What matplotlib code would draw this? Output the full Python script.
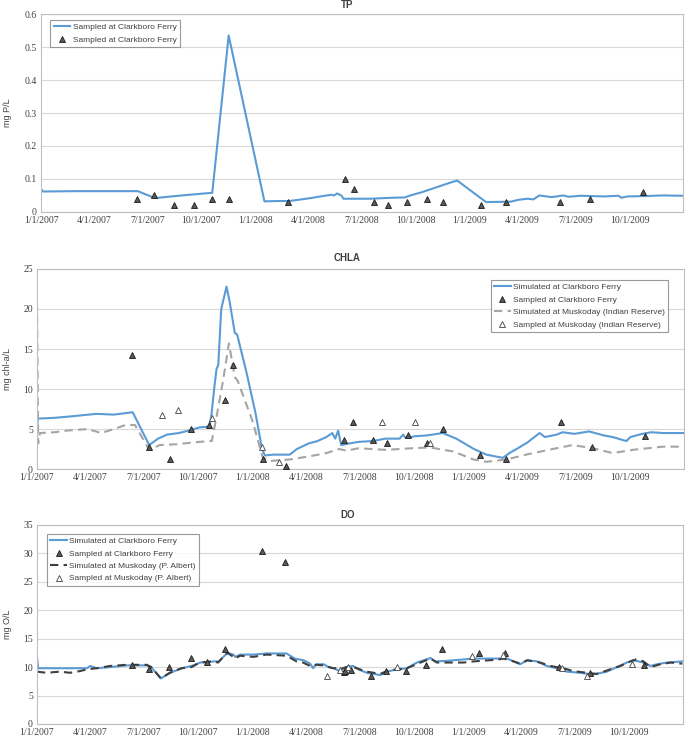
import numpy as np
import matplotlib
matplotlib.use("Agg")
import matplotlib.pyplot as plt
import matplotlib.dates as mdates

# x values are days since 1/1/2007
START = np.datetime64("2007-01-01")
END = np.datetime64("2009-12-31")

tick_labels = ["1/1/2007", "4/1/2007", "7/1/2007", "10/1/2007",
               "1/1/2008", "4/1/2008", "7/1/2008", "10/1/2008",
               "1/1/2009", "4/1/2009", "7/1/2009", "10/1/2009"]
tick_dates = ["2007-01-01", "2007-04-01", "2007-07-01", "2007-10-01",
              "2008-01-01", "2008-04-01", "2008-07-01", "2008-10-01",
              "2009-01-01", "2009-04-01", "2009-07-01", "2009-10-01"]

# ---- TP ----
tp_sim_day = [0, 3, 60, 120, 165, 194, 240, 292, 320, 381, 400, 423, 440, 460,
              480, 495, 500, 505, 512, 516, 560, 600, 621, 630, 650, 680, 700,
              710, 759, 801, 815, 830, 840, 850, 870, 880, 890, 900, 920, 940,
              960, 985, 990, 1000, 1030, 1060, 1095]
tp_sim = [0.070, 0.062, 0.063, 0.063, 0.063, 0.042, 0.050, 0.058, 0.535, 0.032,
          0.033, 0.033, 0.037, 0.042, 0.048, 0.052, 0.050, 0.056, 0.050, 0.040,
          0.040, 0.043, 0.044, 0.050, 0.060, 0.078, 0.090, 0.095, 0.030, 0.031,
          0.037, 0.040, 0.038, 0.050, 0.045, 0.047, 0.050, 0.046, 0.049, 0.048,
          0.047, 0.049, 0.043, 0.047, 0.048, 0.050, 0.049]
tp_obs_day = [163, 192, 226, 261, 291, 320, 422, 519, 533, 568, 591, 625, 659,
              686, 750, 793, 885, 937, 1027]
tp_obs = [0.04, 0.05, 0.02, 0.02, 0.04, 0.04, 0.03, 0.10, 0.07, 0.03, 0.02,
          0.03, 0.04, 0.03, 0.02, 0.03, 0.03, 0.04, 0.06]

# ---- CHLA ----
chla_cf_day = [0, 1, 30, 60, 101, 130, 162, 190, 205, 220, 240, 257, 275, 292,
               295, 300, 304, 307, 312, 321, 326, 335, 339, 355, 370, 381, 386,
               400, 428, 440, 460, 475, 490, 500, 505, 510, 515, 529, 545, 569,
               590, 614, 620, 624, 640, 660, 687, 710, 740, 761, 789, 800, 812,
               830, 851, 860, 880, 890, 910, 935, 960, 975, 998, 1005, 1025,
               1040, 1060, 1095]
chla_cf = [4.0, 6.3, 6.4, 6.6, 6.9, 6.8, 7.1, 3.0, 3.8, 4.3, 4.5, 4.8, 5.2, 5.3,
           6.5, 10.0, 12.5, 13.0, 20.0, 22.8, 21.0, 17.0, 16.8, 12.0, 7.0, 2.5,
           1.7, 1.8, 1.8, 2.5, 3.2, 3.5, 4.0, 4.5, 3.8, 4.8, 3.0, 3.2, 3.4, 3.5,
           3.8, 3.8, 4.3, 3.9, 4.1, 4.2, 4.5, 3.8, 2.5, 1.8, 1.4, 2.0, 2.5, 3.3,
           4.5, 4.0, 4.3, 4.6, 4.4, 4.7, 4.2, 4.0, 3.5, 4.0, 4.4, 4.6, 4.5, 4.5]
chla_mk_day = [0, 2, 5, 30, 50, 86, 109, 130, 150, 166, 190, 208, 236, 275, 296,
               304, 315, 325, 335, 340, 365, 382, 393, 428, 462, 490, 512, 524,
               545, 590, 635, 665, 705, 739, 761, 795, 828, 873, 907, 941, 975,
               1009, 1060, 1095]
chla_mk = [20.8, 3.2, 4.5, 4.6, 4.8, 5.0, 4.5, 5.0, 5.5, 5.5, 2.4, 3.0, 3.1, 3.4,
           3.5, 6.5, 11.0, 15.7, 11.5, 11.0, 6.0, 1.5, 1.0, 1.2, 1.6, 2.0, 2.5,
           2.3, 2.6, 2.4, 2.6, 2.7, 2.2, 1.2, 0.9, 1.2, 1.8, 2.5, 3.0, 2.6, 2.0,
           2.4, 2.8, 2.8]
chla_cf_obs_day = [161, 190, 225, 260, 291, 319, 332, 382, 421, 520, 535, 569,
                   592, 628, 660, 687, 751, 795, 887, 940, 1030]
chla_cf_obs = [14.2, 2.8, 1.3, 5.0, 5.5, 8.6, 13.0, 1.3, 0.4, 3.6, 5.9, 3.6,
               3.2, 4.2, 3.2, 5.0, 1.8, 1.3, 5.9, 2.8, 4.1]
chla_mk_obs_day = [211, 238, 297, 381, 409, 584, 640, 665]
chla_mk_obs = [6.7, 7.4, 6.4, 2.7, 0.9, 5.9, 5.9, 3.3]

# ---- DO ----
do_cf_day = [0, 2, 40, 85, 90, 101, 124, 152, 186, 195, 210, 226, 246, 262, 277,
             300, 308, 316, 323, 333, 336, 345, 367, 389, 423, 437, 452, 463,
             468, 473, 486, 494, 503, 513, 523, 536, 547, 559, 582, 593, 610,
             627, 644, 667, 675, 695, 718, 740, 786, 797, 808, 819, 831, 848,
             864, 881, 898, 921, 943, 966, 983, 1000, 1011, 1028, 1040, 1051,
             1068, 1094]
do_cf = [11.8, 9.8, 9.8, 9.8, 10.2, 9.8, 10.0, 10.3, 10.3, 9.8, 8.0, 9.0, 9.8,
         10.2, 10.8, 11.0, 11.0, 11.8, 12.5, 12.2, 11.8, 12.2, 12.2, 12.4, 12.4,
         11.5, 11.2, 10.6, 9.8, 10.5, 10.5, 10.0, 9.8, 9.3, 10.0, 10.2, 9.5,
         9.0, 8.6, 9.2, 9.6, 9.8, 10.8, 11.6, 11.0, 11.1, 11.3, 11.5, 11.5,
         11.5, 11.0, 10.5, 11.2, 11.0, 10.2, 9.8, 9.2, 9.0, 8.7, 9.2, 10.0,
         10.8, 11.2, 10.8, 10.2, 10.5, 10.8, 11.0]
do_mk_day = [0, 16, 39, 56, 73, 84, 101, 124, 152, 186, 194, 210, 225, 245, 262,
             276, 299, 307, 316, 323, 330, 336, 344, 367, 389, 423, 440, 451,
             463, 474, 485, 502, 519, 531, 536, 559, 582, 593, 610, 627, 650,
             667, 678, 695, 723, 740, 780, 791, 808, 819, 831, 853, 870, 892,
             909, 932, 949, 966, 989, 1006, 1017, 1028, 1040, 1057, 1074, 1094]
do_mk = [9.2, 9.0, 9.2, 9.0, 9.3, 9.6, 9.8, 10.2, 10.4, 10.4, 10.0, 8.0, 9.0,
         9.8, 10.0, 10.8, 11.0, 10.8, 11.8, 12.5, 12.0, 11.5, 12.0, 11.8, 12.2,
         12.0, 11.0, 10.8, 10.2, 10.4, 10.3, 9.8, 9.8, 10.2, 10.0, 9.2, 8.8,
         9.3, 9.6, 9.8, 10.8, 11.5, 10.8, 10.8, 10.8, 11.0, 11.3, 11.5, 11.0,
         10.6, 11.2, 10.8, 10.2, 9.8, 9.3, 9.0, 8.8, 9.4, 10.2, 11.0, 11.4,
         11.0, 10.0, 10.5, 10.8, 10.6]
do_cf_obs_day = [161, 190, 224, 261, 289, 319, 382, 421, 520, 522, 532, 567,
                 591, 625, 659, 686, 749, 793, 885, 937, 1029]
do_cf_obs = [10.3, 9.7, 10.0, 11.6, 10.9, 13.2, 30.4, 28.4, 9.2, 9.3, 9.5, 8.5,
             9.3, 9.3, 10.4, 13.1, 12.5, 12.4, 10.0, 9.0, 10.4]
do_mk_obs_day = [491, 514, 527, 610, 737, 790, 890, 932, 1008]
do_mk_obs = [8.5, 9.5, 10.1, 10.1, 12.0, 12.1, 9.9, 8.4, 10.5]


def to_dates(days):
    return START + np.array(days).astype("timedelta64[D]")


BLUE = "#5b9bd5"
TXT = "#404040"
SERIF = ["Liberation Serif", "DejaVu Serif"]
SANS = ["Liberation Sans", "DejaVu Sans"]


def style_axes(ax, ymax, ystep, yfmt, ylabel, ylab_x):
    ax.set_xlim(mdates.date2num(START), mdates.date2num(END))
    ax.set_ylim(0, ymax)
    ticks = np.arange(0, ymax + ystep / 2, ystep)
    ax.set_yticks(ticks)
    ax.set_yticklabels([yfmt(t) for t in ticks], family=SERIF, fontsize=7, color=TXT)
    ax.set_xticks(mdates.date2num(np.array(tick_dates, dtype="datetime64[D]")))
    ax.set_xticklabels(tick_labels, family=SERIF, fontsize=7, color=TXT)
    ax.tick_params(length=0, pad=3)
    ax.grid(axis="y", color="#d9d9d9", lw=0.8)
    ax.set_axisbelow(True)
    for s in ax.spines.values():
        s.set_color("#bfbfbf")
        s.set_linewidth(0.8)
    ax.set_ylabel(ylabel, family=SANS, fontsize=6.5, color=TXT)
    ax.yaxis.set_label_coords(ylab_x, 0.5)


def obs(ax, days, vals, filled, label):
    if filled:
        ax.plot(to_dates(days), vals, "^", ms=4.5, mfc="#595959", mec="#1a1a1a",
                mew=0.6, ls="none", label=label, zorder=4)
    else:
        ax.plot(to_dates(days), vals, "^", ms=4.5, mfc="white", mec="#404040",
                mew=0.6, ls="none", label=label, zorder=4)


def legend(ax, loc, anchor):
    lg = ax.legend(loc=loc, bbox_to_anchor=anchor, fancybox=False,
                   prop={"family": SANS, "size": 6.0}, handlelength=2.0,
                   borderpad=0.4, labelspacing=0.55, handletextpad=0.3)
    lg.get_frame().set_edgecolor("#808080")
    lg.get_frame().set_linewidth(0.8)
    for t in lg.get_texts():
        t.set_color(TXT)


fig = plt.figure(figsize=(6.85, 7.41), dpi=100)

# TP
ax1 = fig.add_axes([0.060, 0.714, 0.937, 0.267])
ax1.plot(to_dates(tp_sim_day), tp_sim, color=BLUE, lw=1.5, label="Sampled at Clarkboro Ferry")
obs(ax1, tp_obs_day, tp_obs, True, "Sampled at Clarkboro Ferry")
style_axes(ax1, 0.6, 0.1, lambda t: "0" if t == 0 else f"{t:.1f}", "mg P/L", -0.045)
legend(ax1, "upper left", (0.008, 0.99))

# CHLA
ax2 = fig.add_axes([0.054, 0.367, 0.944, 0.270])
ax2.plot(to_dates(chla_cf_day), chla_cf, color=BLUE, lw=1.5, label="Simulated at Clarkboro Ferry")
obs(ax2, chla_cf_obs_day, chla_cf_obs, True, "Sampled at Clarkboro Ferry")
ax2.plot(to_dates(chla_mk_day), chla_mk, color="#a5a5a5", lw=1.5, ls=(0, (4, 2.5)),
         label="Simulated at Muskoday (Indian Reserve)")
obs(ax2, chla_mk_obs_day, chla_mk_obs, False, "Sampled at Muskoday (Indian Reserve)")
style_axes(ax2, 25, 5, lambda t: f"{t:.0f}", "mg chl-a/L", -0.039)
legend(ax2, "upper right", (0.983, 0.965))

# DO
ax3 = fig.add_axes([0.054, 0.023, 0.943, 0.2686])
ax3.plot(to_dates(do_cf_day), do_cf, color=BLUE, lw=1.5, label="Simulated at Clarkboro Ferry")
obs(ax3, do_cf_obs_day, do_cf_obs, True, "Sampled at Clarkboro Ferry")
ax3.plot(to_dates(do_mk_day), do_mk, color="#404040", lw=1.5, ls=(0, (4, 2.5)),
         label="Simulated at Muskoday (P. Albert)")
obs(ax3, do_mk_obs_day, do_mk_obs, False, "Sampled at Muskoday (P. Albert)")
style_axes(ax3, 35, 5, lambda t: f"{t:.0f}", "mg O/L", -0.039)
legend(ax3, "upper left", (0.009, 0.975))

for y, name in [(0.993, "TP"), (0.652, "CHLA"), (0.305, "DO")]:
    fig.text(0.507, y, name, ha="center", va="center", family=SANS,
             fontsize=7, fontweight="bold", color=TXT)

fig.savefig("out.png", dpi=100)
